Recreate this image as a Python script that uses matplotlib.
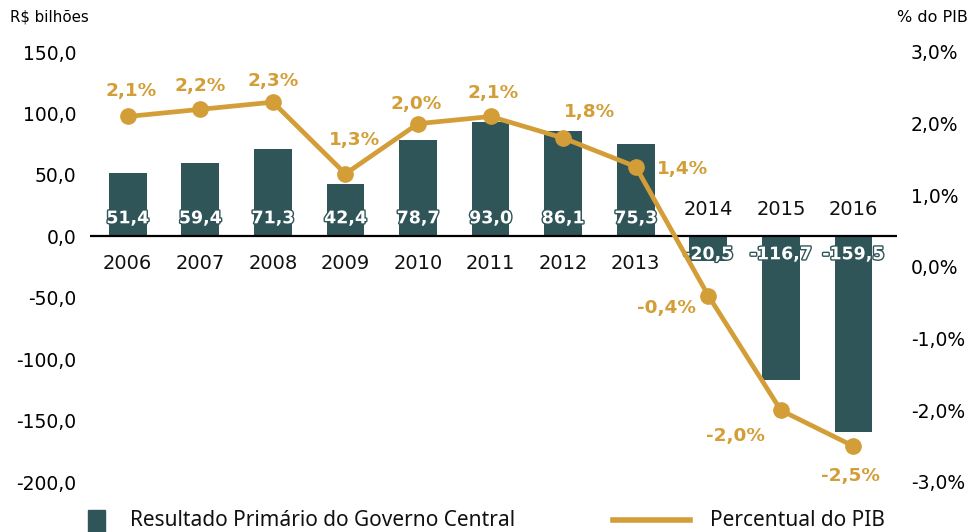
import matplotlib
matplotlib.use("Agg")
import matplotlib.pyplot as plt
import matplotlib.patheffects as pe
from matplotlib.patches import Rectangle
from matplotlib.lines import Line2D

years = ['2006', '2007', '2008', '2009', '2010', '2011', '2012', '2013', '2014', '2015', '2016']
resultado = [51.4, 59.4, 71.3, 42.4, 78.7, 93.0, 86.1, 75.3, -20.5, -116.7, -159.5]
pib = [2.1, 2.2, 2.3, 1.3, 2.0, 2.1, 1.8, 1.4, -0.4, -2.0, -2.5]
left_ticks = [150, 100, 50, 0, -50, -100, -150, -200]
right_ticks = [3, 2, 1, 0, -1, -2, -3]
legend_labels = ['Resultado Primário do Governo Central', 'Percentual do PIB']

BAR = '#2F5558'
GOLD = '#D39E38'
plt.rcParams['font.family'] = ['DejaVu Sans']

fig = plt.figure(figsize=(9.75, 5.32), dpi=100)
W, H = 975, 532
ax = fig.add_axes([90 / W, 1 - 482 / H, (897 - 90) / W, (482 - 52) / H])
ax2 = ax.twinx()

x = list(range(len(years)))
ax.bar(x, resultado, width=0.52, color=BAR, zorder=2)
ax.axhline(0, color='black', lw=1.6, zorder=3)
ax.set_ylim(-200, 150)
ax.set_xlim(-0.52, 10.6)
ax.set_yticks(left_ticks)
ax.set_yticklabels([f"{v:.1f}".replace('.', ',') for v in left_ticks], fontsize=13.5)
ax.set_xticks([])
ax.tick_params(axis='y', length=0, pad=10)
for s in ax.spines.values():
    s.set_visible(False)

ax2.plot(x, pib, color=GOLD, lw=3.4, marker='o', markersize=11, zorder=4)
ax2.set_ylim(-3, 3)
ax2.set_yticks(right_ticks)
ax2.set_yticklabels([f"{v:.1f}%".replace('.', ',') for v in right_ticks], fontsize=13.5)
ax2.tick_params(axis='y', length=0, pad=10)
for s in ax2.spines.values():
    s.set_visible(False)
ax2.set_zorder(ax.get_zorder() + 1)
ax2.patch.set_visible(False)

# bar value labels and year labels
for xi, v, yr in zip(x, resultado, years):
    lab = f"{v:.1f}".replace('.', ',')
    sgn = 1 if v >= 0 else -1
    ax.annotate(lab, (xi, 0), xytext=(0, 18 * sgn), textcoords='offset pixels',
                ha='center', va='center', color='white', fontsize=12.5, fontweight='bold',
                path_effects=[pe.withStroke(linewidth=2, foreground=BAR)], zorder=5)
    ax.annotate(yr, (xi, 0), xytext=(0, -27 * sgn), textcoords='offset pixels',
                ha='center', va='center', color='#111111', fontsize=14)

# percent labels
offs = [(3, 25), (0, 23), (0, 21), (9, 34), (-2, 20), (3, 23), (26, 26), (47, -2),
        (-42, -12), (-45, -26), (-3, -30)]
for xi, p, o in zip(x, pib, offs):
    ax2.annotate(f"{p:.1f}%".replace('.', ','), (xi, p), xytext=o, textcoords='offset pixels',
                 ha='center', va='center', color=GOLD, fontsize=13.3, fontweight='bold', zorder=6)

fig.text(10 / W, 1 - 17 / H, 'R$ bilhões', fontsize=10.8, va='center', ha='left')
fig.text(968 / W, 1 - 17 / H, '% do PIB', fontsize=11.5, va='center', ha='right')

# legend (manual)
fig.add_artist(Rectangle((88 / W, 0), 17 / W, 22 / H, transform=fig.transFigure,
                         color=BAR, clip_on=False))
fig.add_artist(Line2D([613 / W, 690 / W], [1 - 520 / H, 1 - 520 / H], transform=fig.transFigure,
                      color=GOLD, lw=4))
fig.text(130 / W, 1 - 520 / H, legend_labels[0], fontsize=15, family='Noto Sans',
         va='center', ha='left', color='#111111')
fig.text(710 / W, 1 - 520 / H, legend_labels[1], fontsize=15, family='Noto Sans',
         va='center', ha='left', color='#111111')

fig.savefig('out.png', dpi=100)
